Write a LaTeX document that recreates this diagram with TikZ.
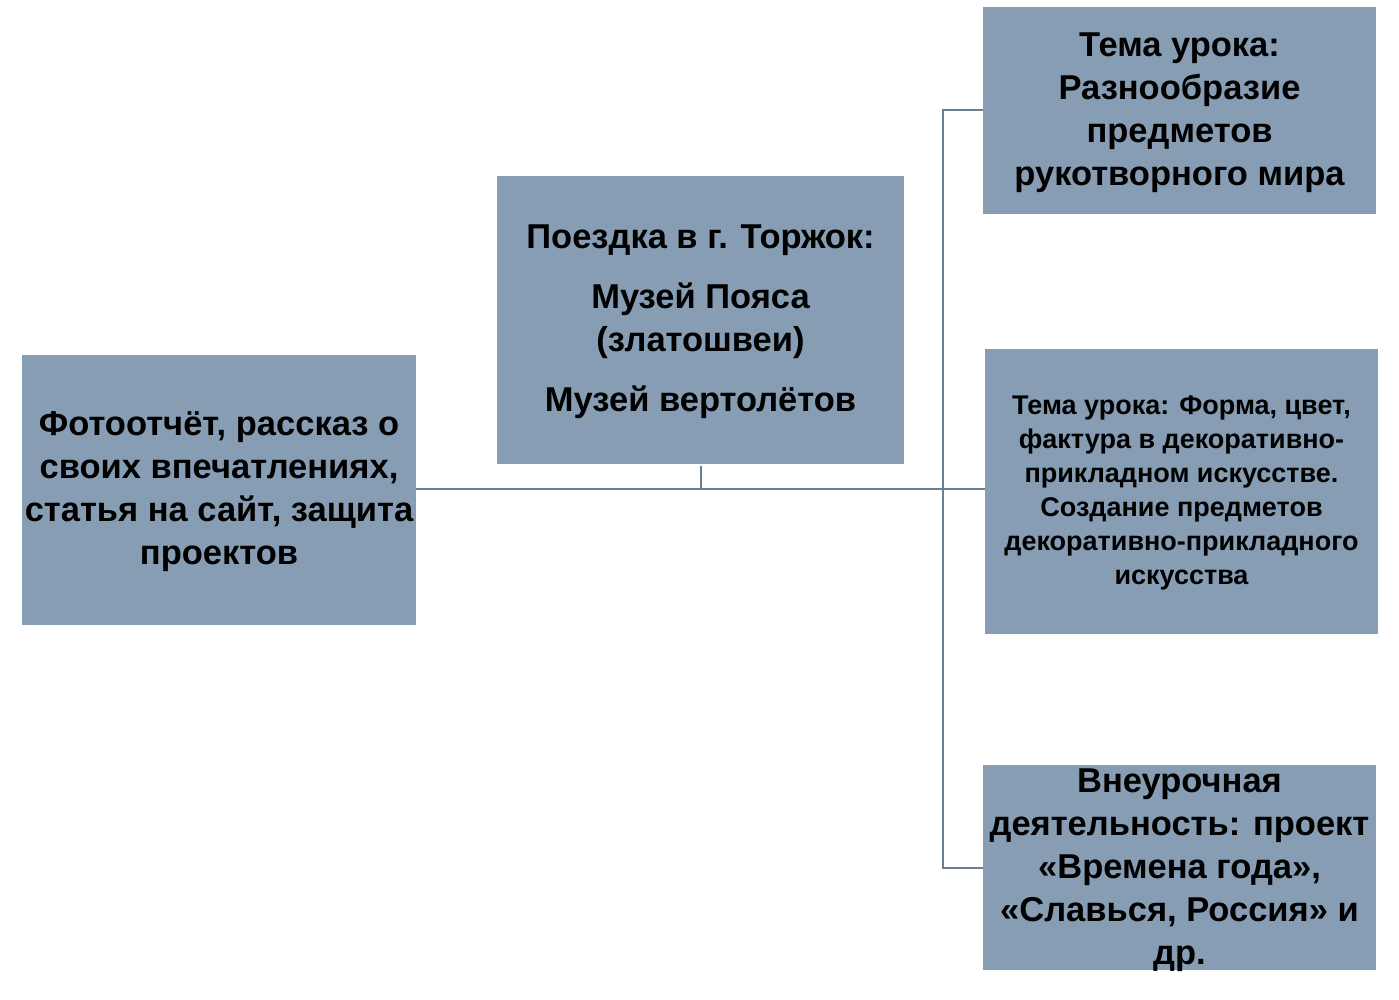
\documentclass[tikz,border=0pt]{standalone}
\usepackage{fontspec}
\setmainfont{Liberation Sans}
\definecolor{boxfill}{RGB}{134,157,179}
\definecolor{linegray}{RGB}{107,127,146}

\begin{document}
\begin{tikzpicture}[
    x=1pt, y=-1pt,
    box/.style={fill=boxfill, draw=none, inner sep=0pt},
    txt/.style={align=center, font=\bfseries\fontsize{34.5}{43}\selectfont, inner sep=0pt},
    small/.style={align=center, font=\bfseries\fontsize{27}{34}\selectfont, inner sep=0pt},
    conn/.style={draw=linegray, line width=2pt}
  ]
  \useasboundingbox (0,0) rectangle (1399,1000);

  % boxes
  \node[box, minimum width=394, minimum height=270] (photo)  at (219,490)    {};
  \node[box, minimum width=407, minimum height=288] (trip)   at (700.5,320)  {};
  \node[box, minimum width=393, minimum height=207] (topic1) at (1179.5,110.5) {};
  \node[box, minimum width=393, minimum height=285] (topic2) at (1181.5,491.5) {};
  \node[box, minimum width=393, minimum height=205] (extra)  at (1179.5,867.5) {};

  % texts
  \node[txt] (photoT) at (219,492) {Фотоотчёт, рассказ о\\своих впечатлениях,\\статья на сайт, защита\\проектов};
  \node[txt] (tripT) at (700.5,322) {Поездка в г. Торжок:\\[17pt]Музей Пояса\\(златошвеи)\\[17pt]Музей вертолётов};
  \node[txt] (topic1T) at (1179.5,113) {Тема урока:\\Разнообразие\\предметов\\рукотворного мира};
  \node[small] (topic2T) at (1181.5,493) {Тема урока: Форма, цвет,\\фактура в декоративно-\\прикладном искусстве.\\Создание предметов\\декоративно-прикладного\\искусства};
  \node[txt] (extraT) at (1179.5,870) {Внеурочная\\деятельность: проект\\«Времена года»,\\«Славься, Россия» и\\др.};

  % connectors
  \coordinate (hub) at (943,489);
  \draw[conn] (photo.east |- hub) -- (hub);
  \draw[conn] (trip.south) ++(0,2) -- (trip.south |- hub);
  \draw[conn] (hub) -- (topic2.west |- hub);
  \draw[conn] (topic1.west) -- (topic1.west -| hub) -- (extra.west -| hub) -- (extra.west);
\end{tikzpicture}
\end{document}
